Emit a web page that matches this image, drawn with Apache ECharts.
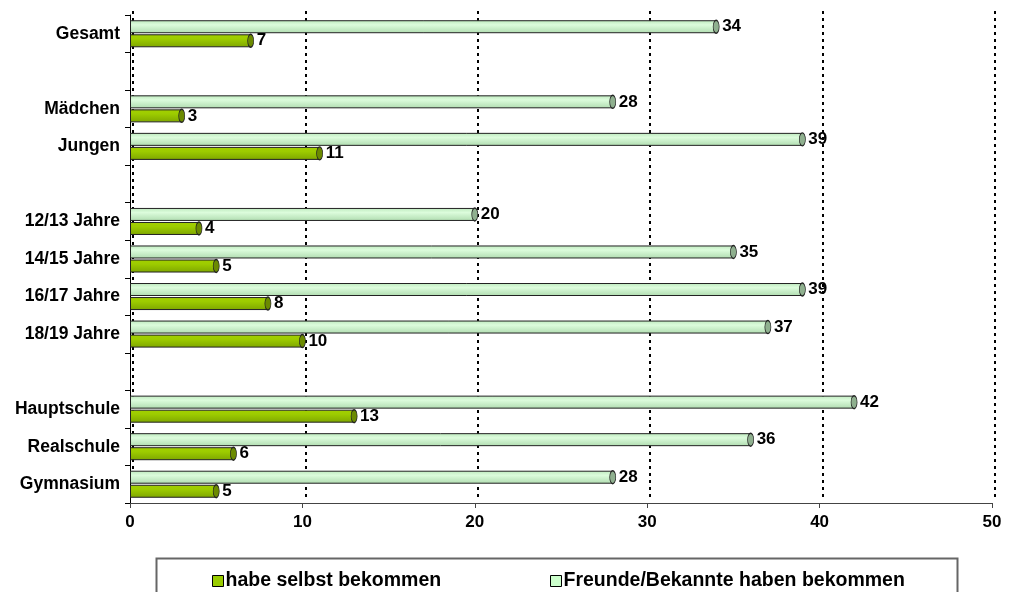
<!DOCTYPE html>
<html>
<head>
<meta charset="utf-8">
<script src="https://cdn.jsdelivr.net/npm/echarts@6/dist/echarts.min.js"></script>
<style>
  html, body { margin: 0; padding: 0; background: #fff; }
  #chart { width: 1010px; height: 592px; }
</style>
</head>
<body>
<div id="chart"></div>
<script>
  // Kategorien von oben nach unten, leere Zeilen als Trenner
  var categories = ['Gesamt', ' ', 'Mädchen', 'Jungen', '  ', '12/13 Jahre', '14/15 Jahre',
    '16/17 Jahre', '18/19 Jahre', '   ', 'Hauptschule', 'Realschule', 'Gymnasium'];
  var selbst = [7, null, 3, 11, null, 4, 5, 8, 10, null, 13, 6, 5];
  var freunde = [34, null, 28, 39, null, 20, 35, 39, 37, null, 42, 36, 28];
  var xTicks = [0, 10, 20, 30, 40, 50];

  var nameSelbst = 'habe selbst bekommen';
  var nameFreunde = 'Freunde/Bekannte haben bekommen';
  var font = 'Liberation Sans, Arial, sans-serif';

  var ellipse = 'path://M50,0 A50,50 0 1,1 50,100 A50,50 0 1,1 50,0 Z';

  function capData(arr) {
    var out = [];
    arr.forEach(function (v, i) {
      if (v != null) out.push([v, i]);
    });
    return out;
  }

  var chart = echarts.init(document.getElementById('chart'));

  chart.setOption({
    animation: false,
    textStyle: { fontFamily: font },
    grid: [
      { left: 130, right: 18, top: 15, bottom: 89 },
      /* versetzte Gitterlinien (3D-Tiefe) */
      { left: 133, right: 15, top: 11, bottom: 92 }
    ],
    legend: [
      {
        data: [nameSelbst], left: 207, top: 566,
        itemWidth: 11, itemHeight: 11, itemGap: 4,
        icon: 'rect',
        itemStyle: { color: '#99CC00', borderColor: '#000', borderWidth: 1 },
        textStyle: { fontFamily: font, fontWeight: 'bold', fontSize: 19.5, color: '#000', padding: [0, 0, 0, -3] }
      },
      {
        data: [nameFreunde], left: 545, top: 566,
        itemWidth: 11, itemHeight: 11, itemGap: 4,
        icon: 'rect',
        itemStyle: { color: '#CCFFCC', borderColor: '#000', borderWidth: 1 },
        textStyle: { fontFamily: font, fontWeight: 'bold', fontSize: 19.5, color: '#000', padding: [0, 0, 0, -3] }
      }
    ],
    graphic: [
      {
        type: 'rect', left: 154, top: 556, silent: true,
        shape: { width: 801, height: 50 },
        style: { fill: 'none', stroke: '#666', lineWidth: 2 }
      }
    ],
    xAxis: [
      {
        type: 'value', gridIndex: 0,
        min: xTicks[0], max: xTicks[xTicks.length - 1], interval: 10,
        axisLine: { show: true, lineStyle: { color: '#444', width: 1 } },
        axisTick: { show: true, length: 5, lineStyle: { color: '#444' } },
        axisLabel: { fontFamily: font, fontWeight: 'bold', fontSize: 17, color: '#000', margin: 11 },
        splitLine: { show: false }
      },
      {
        type: 'value', gridIndex: 1,
        min: xTicks[0], max: xTicks[xTicks.length - 1], interval: 10,
        axisLine: { show: false }, axisTick: { show: false }, axisLabel: { show: false },
        splitLine: { show: true, lineStyle: { color: '#000', width: 2, type: [3, 4] } }
      }
    ],
    yAxis: [
      {
        type: 'category', gridIndex: 0, inverse: true,
        data: categories,
        axisLine: { show: true, lineStyle: { color: '#000', width: 1 } },
        axisTick: { show: true, length: 5, lineStyle: { color: '#000' } },
        axisLabel: { fontFamily: font, fontWeight: 'bold', fontSize: 17.5, color: '#000', margin: 10 }
      },
      {
        type: 'category', gridIndex: 1, inverse: true,
        data: categories, show: false
      }
    ],
    series: [
      {
        name: nameFreunde, type: 'bar', xAxisIndex: 0, yAxisIndex: 0,
        data: freunde, barWidth: 13, barGap: '8%',
        itemStyle: {
          color: new echarts.graphic.LinearGradient(0, 0, 0, 1, [
            { offset: 0, color: '#bde9bd' },
            { offset: 0.35, color: '#dcfcdc' },
            { offset: 1, color: '#b0dcb0' }
          ]),
          borderColor: '#222', borderWidth: 1
        },
        label: {
          show: true, position: 'right', distance: 6,
          fontFamily: font, fontWeight: 'bold', fontSize: 17, color: '#000'
        }
      },
      {
        name: nameSelbst, type: 'bar', xAxisIndex: 0, yAxisIndex: 0,
        data: selbst, barWidth: 13, barGap: '8%',
        itemStyle: {
          color: new echarts.graphic.LinearGradient(0, 0, 0, 1, [
            { offset: 0, color: '#a3d000' },
            { offset: 0.35, color: '#9dcc00' },
            { offset: 1, color: '#7ea600' }
          ]),
          borderColor: '#222', borderWidth: 1
        },
        label: {
          show: true, position: 'right', distance: 6,
          fontFamily: font, fontWeight: 'bold', fontSize: 17, color: '#000'
        }
      },
      /* Zylinder-Enden */
      {
        name: 'capF', type: 'scatter', xAxisIndex: 0, yAxisIndex: 0,
        data: capData(freunde), symbol: ellipse, symbolSize: [6, 13],
        symbolOffset: [0, -7], z: 3, silent: true,
        itemStyle: { color: '#8fb08f', borderColor: '#222', borderWidth: 1, opacity: 1 }
      },
      {
        name: 'capS', type: 'scatter', xAxisIndex: 0, yAxisIndex: 0,
        data: capData(selbst), symbol: ellipse, symbolSize: [6, 13],
        symbolOffset: [0, 7], z: 3, silent: true,
        itemStyle: { color: '#6b8a00', borderColor: '#222', borderWidth: 1, opacity: 1 }
      }
    ]
  });
</script>
</body>
</html>
